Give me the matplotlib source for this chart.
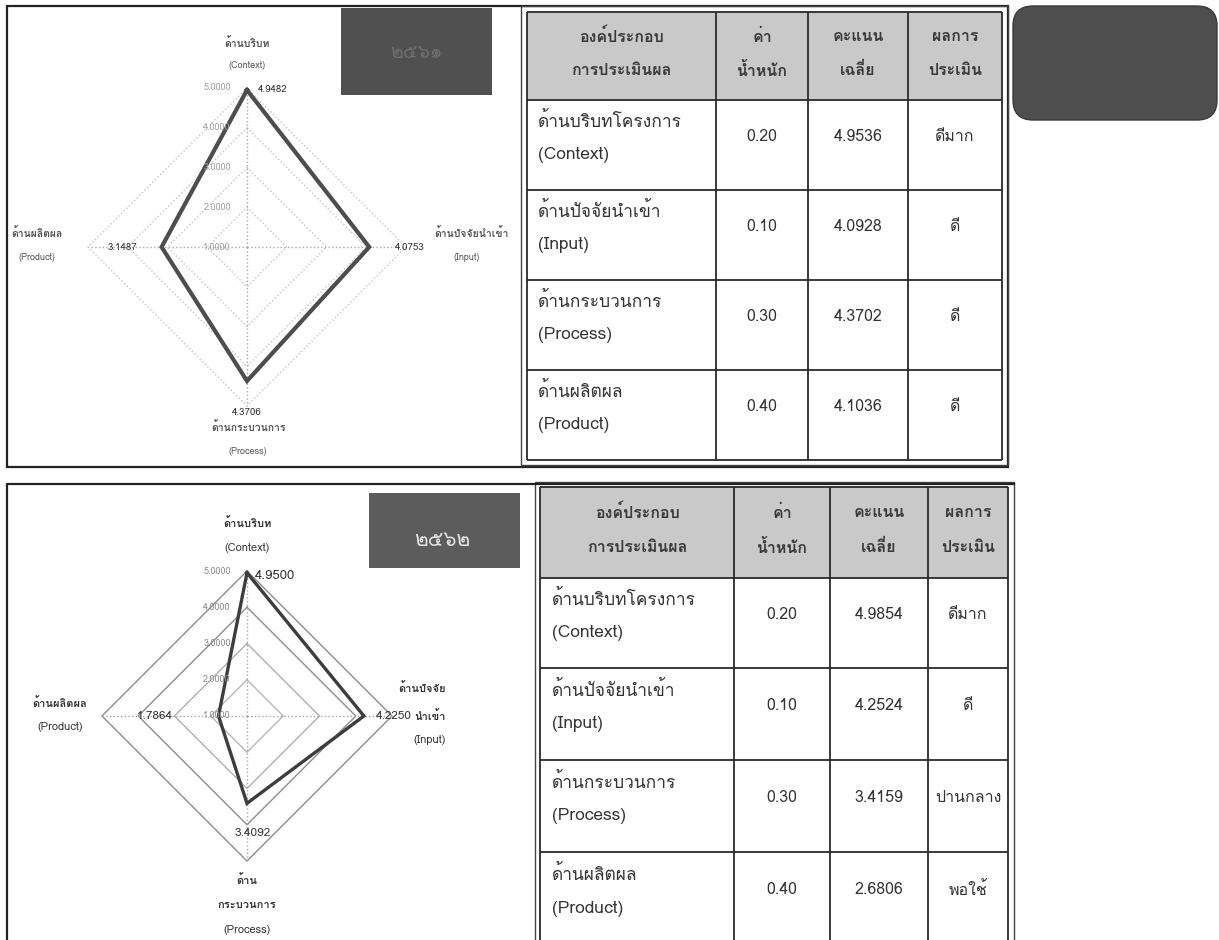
import numpy as np
import matplotlib
matplotlib.use("Agg")
import matplotlib.pyplot as plt
from matplotlib import font_manager
from matplotlib.patches import Rectangle, FancyBboxPatch

W, H = 1219, 940

# radar values (from the point labels)
axis_order = ["Context", "Input", "Process", "Product"]
scores_2561 = [4.9482, 4.0753, 4.3706, 3.1487]
scores_2562 = [4.9500, 4.2250, 3.4092, 1.7864]
rings = [2, 3, 4, 5]
ticks = [1, 2, 3, 4, 5]

# table contents
headers = [("องค์ประกอบ", "การประเมินผล"), ("ค่า", "น้ำหนัก"),
           ("คะแนน", "เฉลี่ย"), ("ผลการ", "ประเมิน")]
parts_th = ["ด้านบริบทโครงการ", "ด้านปัจจัยนำเข้า", "ด้านกระบวนการ", "ด้านผลิตผล"]
parts_en = ["(Context)", "(Input)", "(Process)", "(Product)"]
weights = [0.20, 0.10, 0.30, 0.40]
mean_2561 = [4.9536, 4.0928, 4.3702, 4.1036]
result_2561 = ["ดีมาก", "ดี", "ดี", "ดี"]
mean_2562 = [4.9854, 4.2524, 3.4159, 2.6806]
result_2562 = ["ดีมาก", "ดี", "ปานกลาง", "พอใช้"]
years = ["๒๕๖๑", "๒๕๖๒"]


def thai_font():
    # pick any installed font that has Thai glyphs
    from fontTools.ttLib import TTFont
    for f in font_manager.fontManager.ttflist:
        try:
            tt = TTFont(f.fname, fontNumber=0, lazy=True)
            if 0x0E14 in tt.getBestCmap():
                return f.name
        except Exception:
            pass
    return "DejaVu Sans"


plt.rcParams["font.family"] = [thai_font(), "DejaVu Sans"]

fig = plt.figure(figsize=(W / 100, H / 100), dpi=100)
fig.patch.set_facecolor("white")


def px_rect(x, y, w, h):
    return [x / W, 1 - (y + h) / H, w / W, h / H]


# overlay in pixel coordinates for frames, boxes and tables
ov = fig.add_axes([0, 0, 1, 1])
ov.set_xlim(0, W)
ov.set_ylim(H, 0)
ov.axis("off")


def draw_radar(cx, cy, R, values, ring_colors, ring_ls, line_color, line_w,
               label_offsets, label_sizes, tick_color):
    ax = fig.add_axes(px_rect(cx - R, cy - R, 2 * R, 2 * R), projection="polar")
    ax.set_theta_zero_location("N")
    ax.set_theta_direction(-1)
    ax.set_ylim(1, 5)
    ax.grid(False)
    ax.set_xticks([])
    ax.set_yticks([])
    ax.spines["polar"].set_visible(False)
    ax.patch.set_alpha(0)
    theta = np.deg2rad([0, 90, 180, 270])
    loop = np.append(theta, theta[0])
    for r, c in zip(rings, ring_colors):
        ax.plot(loop, [r] * 5, color=c, lw=1, ls=ring_ls, clip_on=False)
    for t in theta:
        ax.plot([t, t], [1, 5], color="#a8a8a8", lw=1, ls=":", clip_on=False)
    vals = np.append(values, values[0])
    ax.plot(loop, vals, color=line_color, lw=line_w, clip_on=False,
            solid_joinstyle="miter")
    for r in ticks:
        ax.annotate(f"{r:.4f}", (0, r), xytext=(-30, 0), textcoords="offset pixels",
                    ha="center", va="center", fontsize=6.5, color=tick_color,
                    annotation_clip=False)
    for t, v, (dx, dy, ha), fs in zip(theta, values, label_offsets, label_sizes):
        ax.annotate(f"{v:.4f}", (t, v), xytext=(dx, dy), textcoords="offset pixels",
                    ha=ha, va="center", fontsize=fs, color="#333333",
                    annotation_clip=False)
    return ax


def draw_table(cols, rows, means, results, name_x):
    ov.add_patch(Rectangle((cols[0], rows[0]), cols[-1] - cols[0], rows[1] - rows[0],
                           fc="#c9c9c9", ec="none"))
    ov.hlines(rows, cols[0], cols[-1], color="#2a2a2a", lw=1.3)
    ov.vlines(cols, rows[0], rows[-1], color="#2a2a2a", lw=1.3)
    hh = rows[1] - rows[0]
    for j, (l1, l2) in enumerate(headers):
        xc = (cols[j] + cols[j + 1]) / 2
        for frac, txt in ((0.28, l1), (0.66, l2)):
            ov.text(xc, rows[0] + frac * hh, txt, ha="center", va="center",
                    fontsize=11.5, fontweight="bold", color="#3a3a3a")
    for i in range(4):
        top, h = rows[i + 1], rows[i + 2] - rows[i + 1]
        ov.text(name_x, top + 0.24 * h, parts_th[i], ha="left", va="center",
                fontsize=12.5, color="#333333")
        ov.text(name_x, top + 0.61 * h, parts_en[i], ha="left", va="center",
                fontsize=12.5, color="#333333")
        cells = [f"{weights[i]:.2f}", f"{means[i]:.4f}", results[i]]
        for j, txt in enumerate(cells):
            ov.text((cols[j + 1] + cols[j + 2]) / 2, top + 0.41 * h, txt,
                    ha="center", va="center", fontsize=11.5, color="#333333")


# ---------- top block (2561) ----------
ov.add_patch(Rectangle((7, 6), 1001, 461, fc="none", ec="#222222", lw=1.6))
ov.add_patch(Rectangle((521, 6), 487, 459, fc="none", ec="#444444", lw=1.0))
ov.add_patch(Rectangle((341, 8), 151, 87, fc="#505050", ec="none"))
ov.text(416, 53, years[0], ha="center", va="center", fontsize=14, color="#6e6e6e")
ov.add_patch(FancyBboxPatch((1013, 6), 204, 114, boxstyle="round,pad=0,rounding_size=20",
                            fc="#4e4e4e", ec="#3a3a3a", lw=1))

draw_radar(247, 247, 159, scores_2561,
           ["#c4c4c4"] * 4, ":", "#4d4d4d", 3.0,
           [(11, 1, "left"), (26, 0, "left"), (0, -32, "center"), (-24, 0, "right")],
           [7] * 4, "#a0a0a0")

top_labels = [("ด้านบริบท", 247, 43, True), ("(Context)", 247, 65, False),
              ("ด้านปัจจัยนำเข้า", 471, 233, True), ("(Input)", 467, 257, False),
              ("ด้านผลิตผล", 37, 233, True), ("(Product)", 37, 257, False),
              ("ด้านกระบวนการ", 248, 428, True), ("(Process)", 248, 452, False)]
for txt, x, y, bold in top_labels:
    ov.text(x, y, txt, ha="center", va="center", fontsize=7.5 if bold else 6.5,
            fontweight="bold" if bold else "normal", color="#555555")

draw_table([527, 716, 808, 908, 1002], [12, 100, 190, 280, 370, 460],
           mean_2561, result_2561, 538)

# ---------- bottom block (2562) ----------
ov.plot([7, 7, 1014], [H + 5, 484, 484], color="#222222", lw=1.6)
ov.add_patch(Rectangle((369, 493), 151, 75, fc="#5c5c5c", ec="none"))
ov.text(442, 541, years[1], ha="center", va="center", fontsize=15, color="#e4e4e4")

draw_radar(247, 716, 145, scores_2562,
           ["#b8b8b8", "#b0b0b0", "#8c8c8c", "#8c8c8c"], "-", "#3d3d3d", 2.4,
           [(8, -3, "left"), (12, 0, "left"), (6, -30, "center"), (-46, 0, "right")],
           [9.5, 8.5, 8.5, 8.5], "#8a8a8a")

bottom_labels = [("ด้านบริบท", 247, 523, True), ("(Context)", 247, 548, False),
                 ("ด้านปัจจัย", 422, 688, True), ("(Input)", 430, 740, False),
                 ("ด้านผลิตผล", 60, 703, True), ("(Product)", 60, 727, False),
                 ("ด้าน", 247, 880, True), ("กระบวนการ", 247, 905, True),
                 ("(Process)", 247, 930, False)]
for txt, x, y, bold in bottom_labels:
    ov.text(x, y, txt, ha="center", va="center", fontsize=8,
            fontweight="bold" if bold else "normal", color="#333333")
ov.text(414, 716, "นำเข้า", ha="left", va="center", fontsize=8, fontweight="bold",
        color="#333333")

ov.add_patch(Rectangle((535, 482), 479, H, fc="none", ec="#444444", lw=1.0))
draw_table([540, 734, 830, 928, 1008], [487, 578, 668, 760, 852, H + 5],
           mean_2562, result_2562, 552)

fig.savefig("out.png", dpi=100)
